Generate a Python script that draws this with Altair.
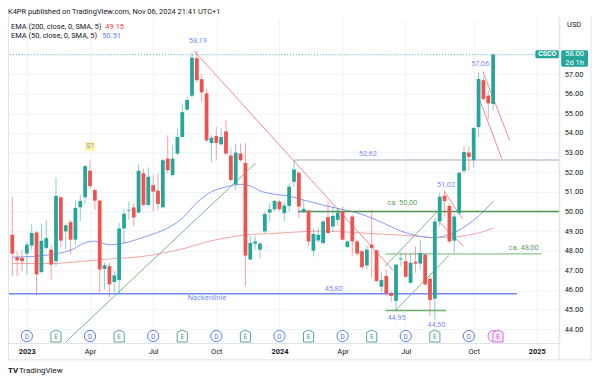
import altair as alt
import pandas as pd

# ---------------- data ----------------
START = pd.Timestamp("2022-12-12")  # first weekly bar

opens = [48.81, 47.66, 47.63, 47.85, 48.26, 48.93, 46.91, 48.14, 48.05, 47.46,
         50.72, 48.98, 49.45, 48.56, 50.21, 50.72, 52.07, 51.09, 50.55, 47.07,
         47.21, 46.40, 46.50, 49.13, 50.02, 50.20, 49.94, 51.94, 50.33, 51.34,
         51.06, 50.21, 52.69, 51.85, 52.95, 53.79, 55.19, 55.90, 57.81, 56.74,
         56.02, 53.49, 53.84, 53.42, 54.08, 52.85, 51.38, 52.95, 52.47, 47.55,
         48.36, 48.05, 48.98, 49.94, 50.11, 50.50, 49.91, 50.28, 51.51, 51.97,
         49.96, 50.04, 48.00, 48.52, 48.39, 49.71, 49.23, 49.57, 49.99, 48.19,
         49.74, 48.47, 47.97, 47.24, 48.31, 48.02, 46.16, 46.70, 45.83, 45.44,
         47.55, 47.46, 46.36, 47.43, 47.34, 47.80, 46.57, 45.55, 49.49, 50.79,
         50.28, 48.51, 49.91, 52.07, 53.00, 52.61, 54.30, 56.69, 55.90, 55.48]
highs = [50.75, 47.97, 48.05, 48.47, 49.37, 49.00, 49.37, 49.57, 48.31, 51.73,
         50.80, 49.40, 49.57, 50.59, 50.84, 52.36, 52.58, 51.18, 50.60, 47.38,
         47.38, 46.96, 49.40, 50.13, 50.50, 50.42, 52.41, 52.19, 52.24, 51.85,
         51.94, 52.69, 53.88, 53.37, 54.21, 55.48, 55.82, 58.10, 58.19, 57.00,
         56.24, 53.88, 54.30, 54.26, 54.64, 53.20, 53.45, 53.45, 53.50, 48.73,
         48.73, 48.47, 49.99, 50.42, 50.58, 50.58, 50.50, 51.43, 52.62, 52.07,
         50.58, 50.08, 49.15, 49.15, 49.57, 50.50, 50.25, 50.16, 50.25, 48.56,
         49.83, 48.56, 48.05, 48.26, 50.08, 48.05, 46.87, 47.04, 45.94, 47.30,
         47.90, 47.88, 47.88, 48.22, 48.56, 47.88, 46.70, 49.66, 50.95, 51.02,
         50.42, 49.91, 52.02, 53.32, 53.32, 54.30, 57.06, 56.86, 56.15, 58.05]
lows = [46.70, 46.70, 46.96, 46.79, 48.05, 45.72, 46.84, 48.05, 46.53, 47.21,
        48.17, 48.05, 47.80, 48.31, 49.49, 50.38, 51.13, 50.08, 45.86, 46.03,
        45.61, 45.86, 45.77, 48.39, 49.57, 49.24, 49.91, 50.25, 50.25, 49.99,
        50.08, 50.16, 51.94, 51.77, 52.86, 53.79, 55.14, 55.82, 56.58, 55.56,
        53.54, 52.53, 52.61, 53.37, 52.86, 51.51, 51.09, 52.53, 46.20, 47.51,
        48.05, 47.63, 48.90, 49.49, 49.99, 49.99, 49.49, 49.99, 51.26, 49.66,
        49.91, 48.22, 47.71, 48.39, 48.31, 48.86, 48.98, 49.27, 48.52, 48.14,
        47.72, 47.72, 47.04, 47.04, 46.62, 46.37, 45.86, 45.69, 45.40, 44.95,
        47.20, 46.62, 46.28, 46.87, 47.04, 46.20, 44.68, 44.50, 49.24, 49.74,
        48.39, 47.88, 49.83, 51.94, 52.10, 52.24, 53.79, 55.65, 54.72, 55.14]
closes = [47.85, 47.51, 47.46, 48.31, 48.90, 46.79, 48.51, 48.64, 47.29, 50.79,
          48.51, 49.29, 48.56, 50.18, 50.53, 52.31, 51.29, 50.55, 47.04, 47.26,
          46.28, 46.74, 49.13, 49.88, 50.06, 49.69, 52.07, 50.33, 51.77, 51.01,
          50.38, 52.61, 52.10, 52.69, 53.79, 55.06, 55.68, 57.84, 56.69, 56.07,
          53.62, 53.76, 53.49, 53.79, 52.95, 51.60, 53.00, 52.61, 47.75, 48.39,
          48.47, 48.36, 49.87, 50.11, 50.53, 50.11, 50.30, 51.26, 52.14, 50.25,
          50.13, 48.47, 48.85, 48.81, 49.49, 48.90, 49.77, 49.94, 48.56, 48.47,
          48.47, 47.85, 47.16, 48.05, 48.14, 46.45, 46.50, 45.83, 45.69, 47.29,
          47.60, 46.67, 47.38, 47.34, 47.88, 46.28, 45.49, 49.49, 50.75, 50.53,
          48.47, 49.74, 51.97, 53.03, 52.78, 54.25, 56.75, 55.73, 55.51, 58.00]

# moving averages (week index, value)
ema50_k = [0, 4, 8, 12, 15, 17, 20, 23, 26, 29, 32, 35, 38, 41, 44, 47, 49, 51, 54,
           57, 60, 64, 68, 72, 76, 80, 84, 87, 89, 91, 93, 95, 97, 99]
ema50_v = [47.67, 47.70, 47.80, 48.02, 48.40, 48.48, 48.30, 48.38, 48.60, 48.85,
           49.15, 49.65, 50.45, 51.00, 51.25, 51.38, 51.30, 51.05, 50.87, 50.78,
           50.58, 50.32, 50.10, 49.85, 49.45, 49.00, 48.73, 48.66, 48.75, 48.92,
           49.20, 49.55, 50.00, 50.51]
ema200_k = [0, 8, 14, 20, 26, 32, 36, 40, 44, 48, 54, 60, 64, 70, 76, 82, 87, 91, 94, 97, 99]
ema200_v = [47.34, 47.34, 47.45, 47.58, 47.68, 47.92, 48.15, 48.45, 48.65, 48.80,
            48.88, 48.97, 49.00, 48.93, 48.84, 48.76, 48.67, 48.70, 48.80, 48.97, 49.15]

# drawn lines: start week, start price, end week, end price, colour, width
seg_k1 = [37.4, 11.0, 76.8, 78.8, 88.9, 87.7, 96.9, 96.3, -1, 58.0, 58.8, 76.8, 76.8]
seg_p1 = [58.19, 43.34, 47.21, 44.93, 51.04, 49.52, 57.13, 55.65, 45.80, 52.62, 50.00, 47.84, 44.95]
seg_k2 = [78.4, 50.1, 87.5, 89.9, 92.7, 92.9, 102.4, 100.9, 103.9, 113, 113, 109.0, 89.3]
seg_p2 = [47.00, 52.46, 49.99, 47.75, 49.62, 48.22, 53.62, 52.61, 45.80, 52.62, 50.00, 47.84, 44.95]
seg_col = ["#f28b8b", "#7cb87c", "#7cb87c", "#7cb87c", "#f28b8b", "#f28b8b", "#f28b8b",
           "#f28b8b", "#7189f6", "#d1d4dc", "#4f944f", "#8cc48c", "#6fae6f"]
seg_w = [1, 1, 1, 1, 1, 1, 1, 1, 1.5, 2, 1.5, 1.2, 1.5]

# text notes: week, price, text, colour
BL = "#7b8ff3"
GR = "#5f9f5f"
ann_k = [38.2, 96.3, 89.3, 73.2, 66.2, 40.1, 79.1, 87.3, 80.3, 105.3]
ann_p = [58.69, 57.53, 51.36, 52.91, 46.05, 45.58, 44.55, 44.22, 50.42, 48.13]
ann_t = ["58,19", "57,06", "51,02", "52,62", "45,80", "Nackenlinie", "44,95", "44,50",
         "ca. 50,00", "ca. 48,00"]
ann_c = [BL, BL, BL, BL, BL, BL, BL, BL, GR, GR]

note_k = [16.0]
note_p = [53.32]
note_t = ["S?"]

dividend_k = [3, 16, 29, 42, 55, 68, 81, 94]
earnings_k = [9, 22, 35, 48, 61, 74, 87]
upcoming_k = [100]

last_price = 58.00
ema200_last = "49.15"
ema50_last = "50.51"


def wk(k):
    return START + pd.Timedelta(days=7 * k)


candles = pd.DataFrame({"date": [wk(i) for i in range(len(opens))],
                        "open": opens, "high": highs, "low": lows, "close": closes})
ema50 = pd.DataFrame({"date": [wk(k) for k in ema50_k], "v": ema50_v})
ema200 = pd.DataFrame({"date": [wk(k) for k in ema200_k], "v": ema200_v})
segs = pd.DataFrame({"d1": [wk(k) for k in seg_k1], "p1": seg_p1,
                     "d2": [wk(k) for k in seg_k2], "p2": seg_p2,
                     "c": seg_col, "w": seg_w})
anns = pd.DataFrame({"d": [wk(k) for k in ann_k], "p": ann_p, "t": ann_t, "c": ann_c})
notes = pd.DataFrame({"d": [wk(k) for k in note_k], "p": note_p, "t": note_t})
divs = pd.DataFrame({"d": [wk(k) for k in dividend_k]})
earns = pd.DataFrame({"d": [wk(k) for k in earnings_k]})
upc = pd.DataFrame({"d": [wk(k) for k in upcoming_k]})
upc_d = pd.DataFrame({"d": [wk(k - 0.9) for k in upcoming_k]})
last = pd.DataFrame({"p": [last_price]})
ONE = pd.DataFrame({"a": [0]})

GREEN = "#26a69a"
RED = "#ef5350"
FONT = "Roboto"
TXT = "#131722"

XS = alt.Scale(domain=[alt.DateTime(year=2022, month=12, date=12, hours=23, minutes=31),
                       alt.DateTime(year=2025, month=1, date=31, hours=2, minutes=24)],
               nice=False)
YS = alt.Scale(domain=[43.293, 59.80], zero=False, nice=False)

tick_dates = [alt.DateTime(year=2023, month=1, date=2), alt.DateTime(year=2023, month=4, date=3),
              alt.DateTime(year=2023, month=7, date=3), alt.DateTime(year=2023, month=10, date=2),
              alt.DateTime(year=2024, month=1, date=1), alt.DateTime(year=2024, month=4, date=1),
              alt.DateTime(year=2024, month=7, date=1), alt.DateTime(year=2024, month=10, date=7),
              alt.DateTime(year=2025, month=1, date=6)]

XA = alt.Axis(values=tick_dates,
              labelExpr="month(datum.value) == 0 ? timeFormat(datum.value, '%Y') : timeFormat(datum.value, '%b')",
              grid=True, gridColor="#f0f3fa", ticks=False, domain=True, domainColor="#e0e3eb",
              labelFont=FONT, labelFontSize=7.5, labelColor=TXT, labelPadding=5,
              labelFlush=False, labelOverlap=False,
              labelFontWeight={"condition": {"test": "month(datum.value) == 0", "value": "bold"},
                               "value": "normal"})
YA = alt.Axis(orient="right", values=list(range(44, 59)), format=".2f", grid=True,
              gridColor="#f0f3fa", ticks=False, domain=True, domainColor="#e0e3eb",
              labelAlign="left", labelPadding=5, labelFont=FONT, labelFontSize=7.5,
              labelColor=TXT, labelFlush=False, labelOverlap=False)


def X(f):
    return alt.X(f, type="temporal", scale=XS, axis=XA, title=None)


def Y(f):
    return alt.Y(f, type="quantitative", scale=YS, axis=YA, title=None)


updown = alt.condition("datum.close >= datum.open", alt.value(GREEN), alt.value(RED))

layers = []

# price line (dotted) at last close
layers.append(alt.Chart(last).mark_rule(strokeDash=[1, 2], color=GREEN, opacity=0.7, strokeWidth=1)
              .encode(y=Y("p")))

# moving averages
layers.append(alt.Chart(ema200).mark_line(color="#f5a3a3", strokeWidth=1, interpolate="monotone")
              .encode(x=X("date"), y=Y("v")))
layers.append(alt.Chart(ema50).mark_line(color="#8599f6", strokeWidth=1, interpolate="monotone")
              .encode(x=X("date"), y=Y("v")))

# drawings
layers.append(alt.Chart(segs).mark_rule(clip=True).encode(
    x=X("d1"), x2=alt.X2("d2"), y=Y("p1"), y2=alt.Y2("p2"),
    color=alt.Color("c:N", scale=None), strokeWidth=alt.StrokeWidth("w:Q", scale=None)))

# candles
layers.append(alt.Chart(candles).mark_rule(strokeWidth=1, opacity=0.55).encode(
    x=X("date"), y=Y("low"), y2=alt.Y2("high"), color=updown))
layers.append(alt.Chart(candles).mark_bar(size=3.8).encode(
    x=X("date"), y=Y("open"), y2=alt.Y2("close"), color=updown))

# text notes
layers.append(alt.Chart(anns).mark_text(font=FONT, fontSize=7.5, baseline="middle", align="center")
              .encode(x=X("d"), y=Y("p"), text="t:N", color=alt.Color("c:N", scale=None)))
layers.append(alt.Chart(notes).mark_point(shape="M-1,-0.9L1,-0.9L1,0.9L-1,0.9Z", size=100, filled=True,
                                           color="#fff59d", opacity=1)
              .encode(x=X("d"), y=Y("p")))
layers.append(alt.Chart(notes).mark_text(font=FONT, fontSize=7, color="#8a8fd6", baseline="middle")
              .encode(x=X("d"), y=Y("p"), text="t:N"))

# dividend / earnings markers
HOUSE = "M-0.85,-0.62L0,-1L0.85,-0.62L0.85,1L-0.85,1Z"
MY = 319
layers.append(alt.Chart(divs).mark_point(shape="circle", size=128, filled=True, fill="white",
                                          stroke="#5b7cf5", strokeWidth=1, opacity=1)
              .encode(x=X("d"), y=alt.value(MY)))
layers.append(alt.Chart(divs).mark_text(text="D", font=FONT, fontSize=6.5, color="#4f6ff2", baseline="middle")
              .encode(x=X("d"), y=alt.value(MY + 0.5)))
layers.append(alt.Chart(earns).mark_point(shape=HOUSE, size=144, filled=True, fill="white",
                                           stroke="#5aa892", strokeWidth=1, opacity=1)
              .encode(x=X("d"), y=alt.value(MY)))
layers.append(alt.Chart(earns).mark_text(text="E", font=FONT, fontSize=6.5, color="#3f9a80", baseline="middle")
              .encode(x=X("d"), y=alt.value(MY + 1)))
layers.append(alt.Chart(upc_d).mark_point(shape="circle", size=128, filled=True, fill="white",
                                           stroke="#d46be3", strokeWidth=1, opacity=1)
              .encode(x=X("d"), y=alt.value(MY)))
layers.append(alt.Chart(upc).mark_point(shape=HOUSE, size=144, filled=True, fill="#fbe6fc",
                                         stroke="#d46be3", strokeWidth=1, opacity=1)
              .encode(x=X("d"), y=alt.value(MY)))
layers.append(alt.Chart(upc).mark_text(text="E", font=FONT, fontSize=6.5, color="#c94fd9", baseline="middle")
              .encode(x=X("d"), y=alt.value(MY + 1)))

# last price tags on the price scale
layers.append(alt.Chart(ONE).mark_rect(color=GREEN, cornerRadius=1.5).encode(
    x=alt.value(531), x2=alt.value(555), y=alt.value(31.3), y2=alt.value(39.3)))
layers.append(alt.Chart(last).mark_text(text="CSCO", font=FONT, fontSize=7, color="white", baseline="middle",
                                         fontWeight="bold")
              .encode(x=alt.value(543), y=Y("p")))
layers.append(alt.Chart(ONE).mark_rect(color=GREEN, cornerRadius=1.5).encode(
    x=alt.value(557), x2=alt.value(584), y=alt.value(31.3), y2=alt.value(48)))
layers.append(alt.Chart(last).mark_text(font=FONT, fontSize=7.5, color="white", baseline="middle")
              .encode(x=alt.value(570.5), y=Y("p"), text=alt.Text("p:Q", format=".2f")))
layers.append(alt.Chart(last).mark_text(text="2d 1h", font=FONT, fontSize=7.5, color="white",
                                         baseline="middle", yOffset=8.4)
              .encode(x=alt.value(570.5), y=Y("p")))


# frame lines
def rule(**enc):
    return alt.Chart(ONE).mark_rule(color="#e0e3eb", strokeWidth=1).encode(**enc)


layers.append(rule(x=alt.value(555), y=alt.value(-3), y2=alt.value(343)))
layers.append(rule(x=alt.value(587), y=alt.value(-3), y2=alt.value(343)))
layers.append(rule(x=alt.value(0.5), y=alt.value(-3), y2=alt.value(343)))
layers.append(rule(x=alt.value(0), x2=alt.value(587), y=alt.value(343)))


# header, legend and captions
def label(text, x, y, color=TXT, size=7.5, weight="normal", align="left"):
    return alt.Chart(ONE).mark_text(text=text, font=FONT, fontSize=size, color=color,
                                    fontWeight=weight, align=align, baseline="middle").encode(
        x=alt.value(x), y=alt.value(y))


layers.append(label("K4PR published on TradingView.com, Nov 06, 2024 21:41 UTC+1", 0, -7))
layers.append(label("EMA (200, close, 0, SMA, 5)", 3, 7.7))
layers.append(label(ema200_last, 98, 7.7, color="#f23645"))
layers.append(label("EMA (50, close, 0, SMA, 5)", 3, 16.5))
layers.append(label(ema50_last, 95, 16.5, color="#5b7cf5"))
layers.append(label("USD", 570, 6, align="center"))
layers.append(label("TV", 0, 354, size=8, weight="bold"))
layers.append(label("TradingView", 11, 354, size=8))

chart = alt.layer(*layers).properties(
    width=555, height=326,
    autosize=alt.AutoSizeParams(type="none"),
    padding={"left": 0, "top": 10, "right": 33, "bottom": 34},
    background="white",
).configure_view(strokeWidth=0)

chart.save("out.html", embed_options={"renderer": "svg", "actions": False})
